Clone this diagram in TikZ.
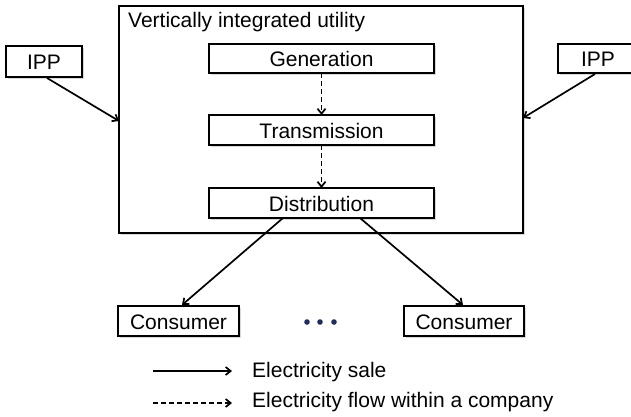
\documentclass[tikz,border=0pt]{standalone}
\usepackage{fontspec}
\setmainfont{Liberation Sans}
\usetikzlibrary{arrows.meta,shadows}
\definecolor{dotblue}{RGB}{30,45,90}
\tikzset{
  box/.style={draw=black, line width=1.6pt, fill=white,
    drop shadow={shadow xshift=1.5pt, shadow yshift=-1.5pt, opacity=0.3}},
  sale/.style={line width=1.7pt, -{Straight Barb[length=5pt,width=8pt]}},
  flow/.style={line width=1.7pt, dash pattern=on 5pt off 3pt, -{Straight Barb[length=5pt,width=8pt]}},
  lbl/.style={font=\fontsize{21}{24}\selectfont, inner sep=0pt, anchor=center},
}
\begin{document}
\begin{tikzpicture}[x=1pt,y=-1pt]
\useasboundingbox (0,0) rectangle (631,416);
% utility frame
\draw[box] (119,6) rectangle (523,233);
\node[lbl, anchor=west] (vtitle) at (128,22) {Vertically integrated utility};
% inner boxes
\draw[box] (209,44) rectangle (434,73);
\node[lbl] (gen) at (321.5,59) {Generation};
\coordinate (genS) at (321.5,73);
\draw[box] (209,115) rectangle (434,145);
\node[lbl] (trans) at (321.5,131) {Transmission};
\coordinate (transN) at (321.5,115);
\coordinate (transS) at (321.5,145);
\draw[box] (209,188) rectangle (434,218);
\node[lbl] (dist) at (321.5,204) {Distribution};
\coordinate (distN) at (321.5,188);
\coordinate (distL) at (283,218);
\coordinate (distR) at (360,218);
% IPPs (the right one runs past the page edge)
\draw[box] (6,46) rectangle (82,77);
\node[lbl] (ippL) at (44,62) {IPP};
\coordinate (ippLS) at (47,78);
\draw[box] (558,44) rectangle (640,73);
\node[lbl] (ippR) at (598,59) {IPP};
\coordinate (ippRS) at (595,74);
\coordinate (frameL) at (119,121);
\coordinate (frameR) at (523,118);
% consumers
\draw[box] (118,306) rectangle (239,336);
\node[lbl] (conL) at (178.5,322) {Consumer};
\coordinate (conLN) at (182,305);
\draw[box] (404,306) rectangle (524,336);
\node[lbl] (conR) at (464,322) {Consumer};
\coordinate (conRN) at (463,305);
\foreach \x in {307,320,334} \fill[dotblue] (\x,322) circle (2.8pt);
% connectors
\draw[flow] (genS) -- (transN);
\draw[flow] (transS) -- (distN);
\draw[sale] (ippLS) -- (frameL);
\draw[sale] (ippRS) -- (frameR);
\draw[sale] (distL) -- (conLN);
\draw[sale] (distR) -- (conRN);
% legend
\coordinate (l1a) at (153,371);
\coordinate (l1b) at (232,371);
\coordinate (l2a) at (153,403);
\coordinate (l2b) at (232,403);
\draw[sale] (l1a) -- (l1b);
\draw[flow] (l2a) -- (l2b);
\node[lbl, anchor=west] (leg1) at (252,372) {Electricity sale};
\node[lbl, anchor=west] (leg2) at (252,402) {Electricity flow within a company};
\end{tikzpicture}
\end{document}
